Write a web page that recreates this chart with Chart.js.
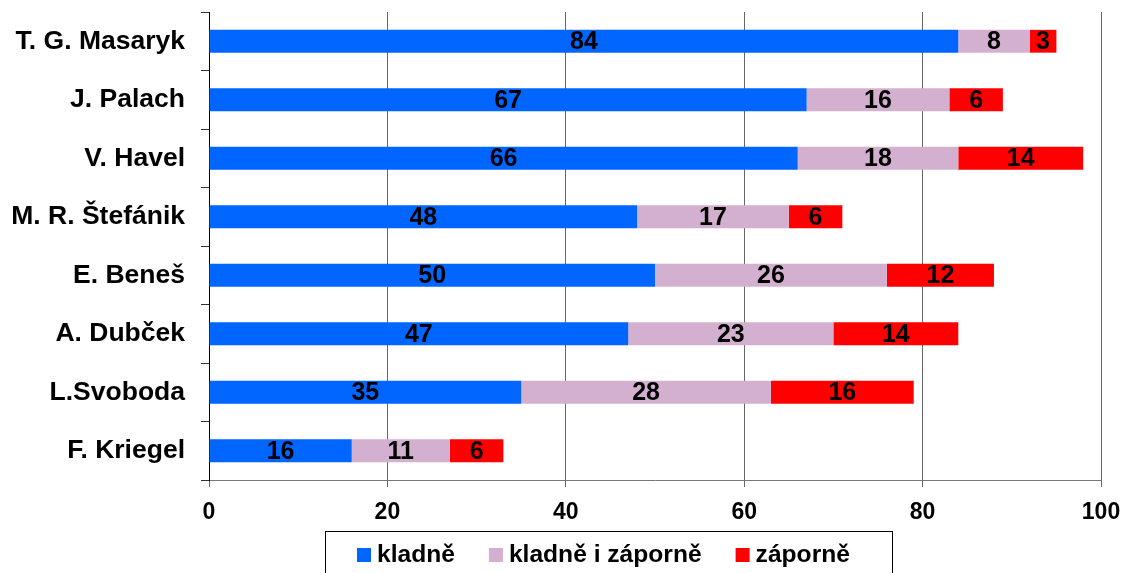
<!DOCTYPE html>
<html>
<head>
<meta charset="utf-8">
<script src="https://cdn.jsdelivr.net/npm/chart.js@4"></script>
<style>
  html, body { margin: 0; padding: 0; background: #fff; }
  #wrap { width: 1123px; height: 573px; position: relative; }
</style>
</head>
<body>
<div id="wrap"><canvas id="rankChart"></canvas></div>
<script>
const categories = ['T. G. Masaryk', 'J. Palach', 'V. Havel', 'M. R. Štefánik', 'E. Beneš', 'A. Dubček', 'L.Svoboda', 'F. Kriegel'];
const kladne = [84, 67, 66, 48, 50, 47, 35, 16];
const kladneIZaporne = [8, 16, 18, 17, 26, 23, 28, 11];
const zaporne = [3, 6, 14, 6, 12, 14, 16, 6];
const xTicks = [0, 20, 40, 60, 80, 100];

const FONT = "'Liberation Sans', Arial, sans-serif";

// values written in the middle of each bar piece
const barLabels = {
  id: 'barLabels',
  afterDatasetsDraw(chart) {
    const ctx = chart.ctx;
    ctx.save();
    ctx.font = 'bold 25px ' + FONT;
    ctx.fillStyle = '#000';
    ctx.textAlign = 'center';
    ctx.textBaseline = 'middle';
    chart.data.datasets.forEach((ds, i) => {
      chart.getDatasetMeta(i).data.forEach((bar, j) => {
        const p = bar.getCenterPoint();
        ctx.fillText(ds.data[j], p.x, p.y + 1);
      });
    });
    ctx.restore();
  }
};

// legend in a frame, drawn by hand below the axis
const boxLegend = {
  id: 'boxLegend',
  afterDraw(chart) {
    const ctx = chart.ctx;
    ctx.save();
    ctx.font = 'bold 24.6px ' + FONT;
    ctx.textBaseline = 'middle';
    ctx.textAlign = 'left';
    const cy = 555;
    let x = 357;
    const start = x;
    chart.data.datasets.forEach((ds, i) => {
      ctx.fillStyle = ds.backgroundColor;
      ctx.fillRect(x, cy - 7, 14, 14);
      ctx.fillStyle = '#000';
      ctx.fillText(ds.label, x + 20, cy);
      x += 20 + ctx.measureText(ds.label).width;
      if (i < chart.data.datasets.length - 1) x += 34;
    });
    ctx.strokeStyle = '#000';
    ctx.lineWidth = 1;
    ctx.strokeRect(start - 32 + 0.5, 531.5, Math.round(x - start + 74), 60);
    ctx.restore();
  }
};

new Chart(document.getElementById('rankChart'), {
  type: 'bar',
  data: {
    labels: categories,
    datasets: [
      { label: 'kladně', data: kladne, backgroundColor: '#0066ff' },
      { label: 'kladně i záporně', data: kladneIZaporne, backgroundColor: '#d4b0d0' },
      { label: 'záporně', data: zaporne, backgroundColor: '#ff0000' }
    ]
  },
  options: {
    indexAxis: 'y',
    responsive: true,
    maintainAspectRatio: false,
    animation: false,
    barPercentage: 0.39,
    categoryPercentage: 1,
    layout: { padding: { left: 0, right: 22, top: 12, bottom: 53 } },
    scales: {
      x: {
        stacked: true,
        min: 0,
        max: 100,
        afterBuildTicks(scale) { scale.ticks = xTicks.map(v => ({ value: v })); },
        afterFit(scale) { scale.height = 40; scale.paddingLeft = 0; scale.paddingRight = 0; },
        grid: { color: '#666', lineWidth: 1, tickLength: 7 },
        border: { color: '#777' },
        ticks: { color: '#000', font: { family: FONT, size: 23, weight: 'bold' }, padding: 12 }
      },
      y: {
        stacked: true,
        afterFit(scale) { scale.width = 209; scale.paddingTop = 0; scale.paddingBottom = 0; },
        grid: { offset: true, drawOnChartArea: false, color: '#333', tickLength: 8 },
        border: { color: '#000' },
        ticks: { color: '#000', font: { family: FONT, size: 26.5, weight: 'bold' }, padding: 16 }
      }
    },
    plugins: {
      tooltip: { enabled: false },
      legend: { display: false }
    }
  },
  plugins: [barLabels, boxLegend]
});
</script>
</body>
</html>
